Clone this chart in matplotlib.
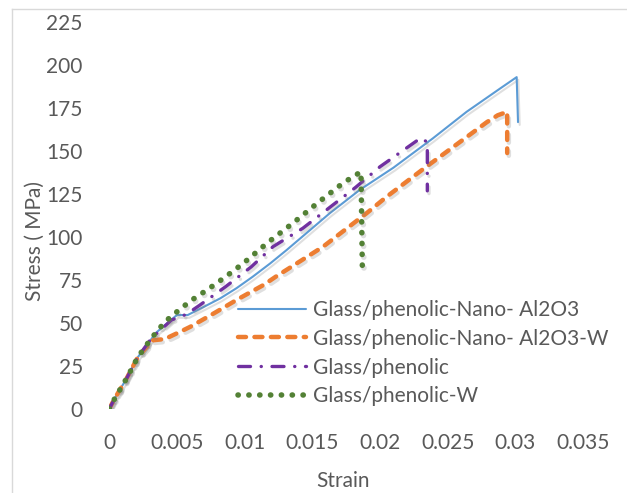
import matplotlib
matplotlib.use("Agg")
import matplotlib.pyplot as plt
from matplotlib.lines import Line2D
from matplotlib import patheffects as pe

# ---- data ----
strain_nano = [0, 0.0004, 0.0013, 0.0021, 0.0031, 0.0034, 0.0050, 0.0058, 0.0070, 0.0082,
               0.0094, 0.0106, 0.0119, 0.0131, 0.0163, 0.0185, 0.0210, 0.0239, 0.0264,
               0.0289, 0.0301, 0.0302]
stress_nano = [0, 6, 18, 30, 40.5, 44, 54.7, 54.7, 59.5, 64.4,
               70.3, 77, 84.8, 92.5, 114, 127.5, 140.5, 157.5, 173,
               186.7, 193.2, 167]

strain_nano_w = [0, 0.0004, 0.0013, 0.0021, 0.0032, 0.0041, 0.0052, 0.0060, 0.0078, 0.0095,
                 0.0114, 0.0123, 0.0158, 0.0190, 0.0205, 0.0233, 0.0279, 0.0287, 0.0294, 0.0294]
stress_nano_w = [0, 6, 18, 30, 40, 40.7, 44.8, 47.9, 56, 63.9,
                 72.2, 77, 94.5, 113.9, 123.6, 140.3, 167, 171, 173, 149]

strain_gp = [0, 0.0004, 0.0013, 0.0021, 0.0031, 0.0046, 0.0057, 0.0067, 0.0086, 0.0105,
             0.0121, 0.0143, 0.0163, 0.0182, 0.0200, 0.0230, 0.0235, 0.0235]
stress_gp = [0, 6, 18, 30, 41, 51.8, 55.1, 60.5, 71.2, 82.8,
             94.5, 105.2, 117.4, 129, 141, 157.7, 155.4, 127]

strain_gp_w = [0, 0.0004, 0.0013, 0.0021, 0.0031, 0.0041, 0.0047, 0.0060, 0.0073, 0.0086,
               0.0099, 0.0117, 0.0136, 0.0154, 0.0173, 0.0186, 0.0187]
stress_gp_w = [0, 6, 18, 30, 41, 50.6, 54.7, 62.9, 69.7, 77,
               84.8, 96.8, 108.4, 120, 131.7, 138.1, 82]

labels = ["Glass/phenolic-Nano- Al2O3", "Glass/phenolic-Nano- Al2O3-W",
          "Glass/phenolic", "Glass/phenolic-W"]
x_ticks = [0, 0.005, 0.01, 0.015, 0.02, 0.025, 0.03, 0.035]
x_tick_labels = ["0", "0.005", "0.01", "0.015", "0.02", "0.025", "0.03", "0.035"]
y_ticks = [0, 25, 50, 75, 100, 125, 150, 175, 200, 225]

plt.rcParams['font.family'] = ['Lato', 'DejaVu Sans']
TXT = '#595959'
FS = 15

W, H = 627, 493
fig = plt.figure(figsize=(W / 100, H / 100), dpi=100)
ax = fig.add_axes([109.2 / W, 1 - 409 / H, (583 - 109.2) / W, (409 - 22.5) / H])

shadow = [pe.SimpleLineShadow(offset=(1.2, -2.0), shadow_color='#808080', alpha=0.25), pe.Normal()]

styles = [
    dict(color='#5B9BD5', lw=1.5, ls='-', solid_capstyle='round'),
    dict(color='#ED7D31', lw=3.2, ls=(0, (1.8, 1.9)), dash_capstyle='round'),
    dict(color='#7030A0', lw=2.4, ls=(0, (3.6, 3.2, 0.05, 3.2)), dash_capstyle='round'),
    dict(color='#538135', lw=4.0, ls=(0, (0.05, 1.9)), dash_capstyle='round'),
]
series = [(strain_nano, stress_nano), (strain_nano_w, stress_nano_w),
          (strain_gp, stress_gp), (strain_gp_w, stress_gp_w)]

for (xs, ys), st in zip(series, styles):
    ax.plot(xs, ys, path_effects=shadow, **st)

ax.set_xlim(0, 0.035)
ax.set_ylim(0, 225)
ax.set_xticks(x_ticks)
ax.set_xticklabels(x_tick_labels)
ax.set_yticks(y_ticks)
for s in ax.spines.values():
    s.set_visible(False)
ax.tick_params(axis='both', length=0, labelsize=FS, labelcolor=TXT)
ax.tick_params(axis='x', pad=17)
ax.tick_params(axis='y', pad=19)

fig.text(343 / W, 1 - 481 / H, "Strain", ha='center', va='center', fontsize=FS, color=TXT)
fig.text(35 / W, 1 - 241 / H, "Stress ( MPa)", ha='center', va='center', rotation=90,
         fontsize=FS, color=TXT)

handles = [Line2D([], [], **st) for st in styles]
fig.legend(handles, labels, loc='upper left', bbox_to_anchor=(238 / W, 1 - 300 / H),
           frameon=False, fontsize=FS, labelcolor=TXT, handlelength=3.27,
           handletextpad=0.34, labelspacing=0.42, borderaxespad=0, borderpad=0)

# light chart border (Excel chart area)
fig.add_artist(Line2D([11.5 / W, 11.5 / W], [0, 1 - 8.5 / H], color='#d9d9d9', lw=1.0))
fig.add_artist(Line2D([11.5 / W, 1], [1 - 8.5 / H, 1 - 8.5 / H], color='#d9d9d9', lw=1.0))

fig.savefig("out.png", dpi=100)
